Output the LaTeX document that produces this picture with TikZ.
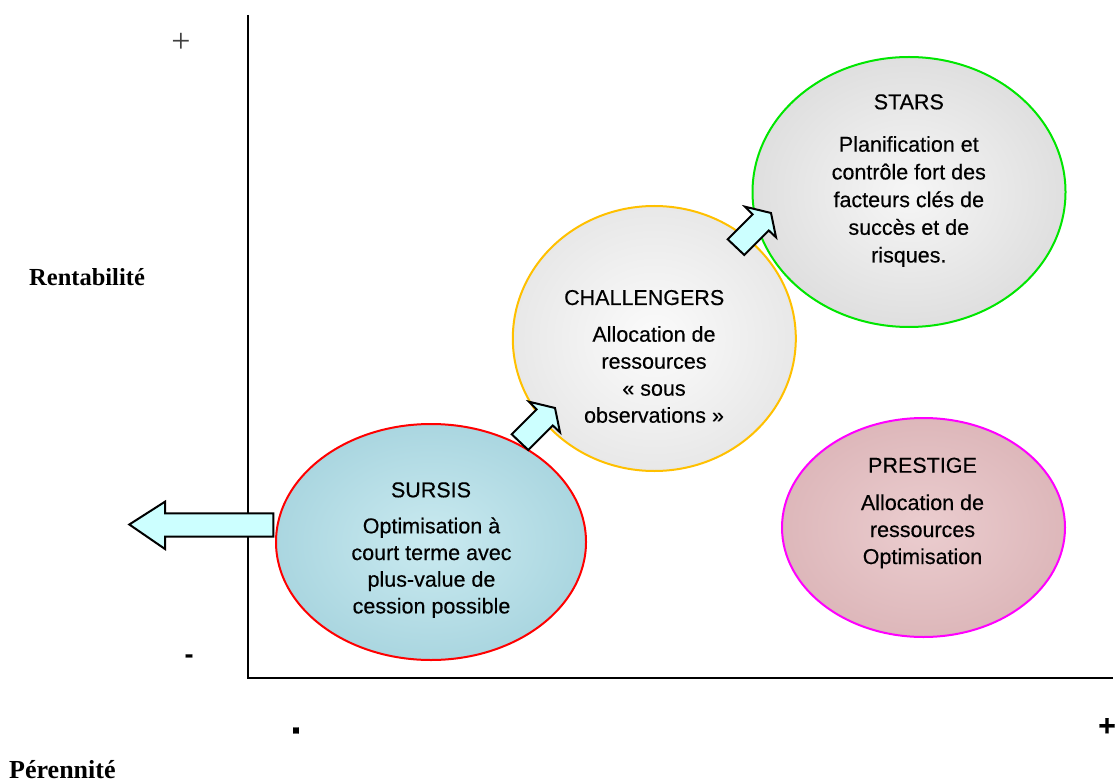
\documentclass[tikz,border=0pt]{standalone}
\usepackage{fontspec}
\setmainfont{Liberation Sans}[FakeBold=0.35]
\newfontfamily\serifface{Liberation Serif}
\newfontfamily\bubblefont{Liberation Sans}[FakeBold=0.35]
\usetikzlibrary{shapes.geometric}
\definecolor{arrowcyan}{HTML}{CCFFFF}
\definecolor{sursisred}{HTML}{FF0000}
\definecolor{challyellow}{HTML}{FFC000}
\definecolor{starsgreen}{HTML}{00E600}
\definecolor{prestmag}{HTML}{FF00FF}
\definecolor{sursisin}{HTML}{CAEAF0}
\definecolor{sursisout}{HTML}{AAD6E0}
\definecolor{prestin}{HTML}{EBCDCF}
\definecolor{prestout}{HTML}{DDB7BA}
\definecolor{challin}{HTML}{FBFBFB}
\definecolor{challout}{HTML}{E8E8E8}
\definecolor{starsin}{HTML}{F6F6F6}
\definecolor{starsout}{HTML}{DFDFDF}
\begin{document}
\begin{tikzpicture}[x=1pt,y=-1pt,
  bubble/.style={ellipse, inner sep=0pt, line width=2pt},
  title/.style={inner sep=0pt, anchor=base, font=\bubblefont\fontsize{21.5}{27}\selectfont},
  body/.style={inner sep=0pt, anchor=base},
  blockarrow/.style={draw=black, line width=2pt, fill=arrowcyan, line join=miter},
  axislbl/.style={inner sep=0pt, anchor=base west}
]
\useasboundingbox (0,0) rectangle (1118,783);

% axes
\coordinate (ytop) at (248,15);
\coordinate (orig) at (248,678);
\coordinate (xend) at (1113,678);
\draw[line width=2pt, line join=miter] (ytop) -- (orig) -- (xend);

% axis labels
\node[inner sep=0pt, text=black!75, font=\serifface\fontsize{34}{34}\selectfont] (yplus) at (181,43) {+};
\node[inner sep=0pt, font=\bfseries\fontsize{26}{26}\selectfont] (yminus) at (189,658.5) {-};
\node[inner sep=0pt, font=\bfseries\fontsize{40}{40}\selectfont] (xminus) at (296,730.5) {.};
\node[inner sep=0pt, font=\bfseries\fontsize{30}{30}\selectfont] (xplus) at (1107,727) {+};
\node[axislbl, font=\serifface\bfseries\fontsize{24.5}{24.5}\selectfont] (rent) at (29,286) {Rentabilité};
\node[axislbl, font=\serifface\bfseries\fontsize{26}{26}\selectfont] (peren) at (9,778) {Pérennité};

% bubbles
\node[bubble, draw=starsgreen, inner color=starsin, outer color=starsout,
      minimum width=313, minimum height=270] (stars) at (909,192) {};
\node[bubble, draw=challyellow, inner color=challin, outer color=challout,
      minimum width=283, minimum height=265] (chall) at (654.3,338.5) {};
\node[bubble, draw=prestmag, inner color=prestin, outer color=prestout,
      minimum width=283, minimum height=219] (prest) at (923.5,527.5) {};
\node[bubble, draw=sursisred, inner color=sursisin, outer color=sursisout,
      minimum width=310, minimum height=236] (sursis) at (431,542) {};

% texts
\node[title] (starsT) at (908.8,109.3) {STARS};
\node[body] (starsB) at (908.8,151.7) {\bubblefont\fontsize{21.5}{27.7}\selectfont\begin{tabular}[t]{@{}c@{}}Planification et\\ contrôle fort des\\ facteurs clés de\\ succès et de\\ risques.\end{tabular}};

\node[title] (challT) at (644.2,305) {CHALLENGERS};
\node[body] (challB) at (654,341.7) {\bubblefont\fontsize{21.5}{27}\selectfont\begin{tabular}[t]{@{}c@{}}Allocation de\\ ressources\\ « sous\\ observations »\end{tabular}};

\node[title] (prestT) at (922.5,472.7) {PRESTIGE};
\node[body] (prestB) at (922.5,510) {\bubblefont\fontsize{21.5}{27}\selectfont\begin{tabular}[t]{@{}c@{}}Allocation de\\ ressources\\ Optimisation\end{tabular}};

\node[title] (sursisT) at (431,497.3) {SURSIS};
\node[body] (sursisB) at (431.5,533.3) {\bubblefont\fontsize{21.5}{26.7}\selectfont\begin{tabular}[t]{@{}c@{}}Optimisation à\\ court terme avec\\ plus-value de\\ cession possible\end{tabular}};

% block arrows
\draw[blockarrow] (273.3,513.3) -- (165,513.3) -- (165,501.7) -- (129.3,524.5)
  -- (165,549) -- (165,536.7) -- (273.3,536.7) -- cycle;
\draw[blockarrow] (511.7,434.3) -- (536.6,409.4) -- (529,401.7) -- (555,408)
  -- (560,432.3) -- (552.8,425.5) -- (528.3,450) -- cycle;
\begin{scope}[shift={(216,-195)}]
\draw[blockarrow] (511.7,434.3) -- (536.6,409.4) -- (529,401.7) -- (555,408)
  -- (560,432.3) -- (552.8,425.5) -- (528.3,450) -- cycle;
\end{scope}
\end{tikzpicture}
\end{document}
